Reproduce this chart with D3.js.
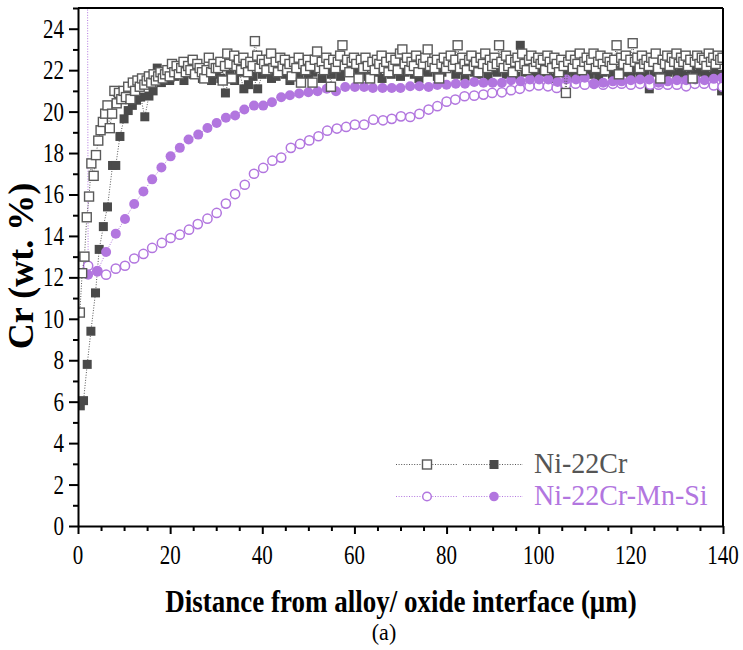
<!DOCTYPE html>
<html><head><meta charset="utf-8">
<script src="https://cdn.jsdelivr.net/npm/d3@7"></script>
<style>body{margin:0;background:#fff}svg{display:block}text{font-family:"Liberation Serif",serif}</style>
</head><body>
<script>
// ---------------- DATA ----------------
const xTicks = [0,20,40,60,80,100,120,140];
const xMinorTicks = [5,10,15,25,30,35,45,50,55,65,70,75,85,90,95,105,110,115,125,130,135];
const yTicks = [0,2,4,6,8,10,12,14,16,18,20,22,24];
const yMinorTicks = [1,3,5,7,9,11,13,15,17,19,21,23,25];
const seriesNames = ["Ni-22Cr","Ni-22Cr-Mn-Si"];

// Ni-22Cr, open squares
const niOpenX = [
0.4,0.9,1.4,1.9,2.4,2.9,3.4,3.9,4.4,4.9,5.4,5.9,6.4,6.9,7.4,7.9,8.4,8.9,9.4,9.9,
10.4,10.9,11.4,11.9,12.4,12.9,13.4,13.9,14.4,14.9,15.4,15.9,16.4,16.9,17.4,17.9,18.4,18.9,19.4,19.9,
20.4,20.9,21.4,21.9,22.4,22.9,23.4,23.9,24.4,24.9,25.4,25.9,26.4,26.9,27.4,27.9,28.4,28.9,29.4,29.9,
30.4,30.9,31.4,31.9,32.4,32.9,33.4,33.9,34.4,34.9,35.4,35.9,36.4,36.9,37.4,37.9,38.4,38.9,39.4,39.9,
40.4,40.9,41.4,41.9,42.4,42.9,43.4,43.9,44.4,44.9,45.4,45.9,46.4,46.9,47.4,47.9,48.4,48.9,49.4,49.9,
50.4,50.9,51.4,51.9,52.4,52.9,53.4,53.9,54.4,54.9,55.4,55.9,56.4,56.9,57.4,57.9,58.4,58.9,59.4,59.9,
60.4,60.9,61.4,61.9,62.4,62.9,63.4,63.9,64.4,64.9,65.4,65.9,66.4,66.9,67.4,67.9,68.4,68.9,69.4,69.9,
70.4,70.9,71.4,71.9,72.4,72.9,73.4,73.9,74.4,74.9,75.4,75.9,76.4,76.9,77.4,77.9,78.4,78.9,79.4,79.9,
80.4,80.9,81.4,81.9,82.4,82.9,83.4,83.9,84.4,84.9,85.4,85.9,86.4,86.9,87.4,87.9,88.4,88.9,89.4,89.9,
90.4,90.9,91.4,91.9,92.4,92.9,93.4,93.9,94.4,94.9,95.4,95.9,96.4,96.9,97.4,97.9,98.4,98.9,99.4,99.9,
100.4,100.9,101.4,101.9,102.4,102.9,103.4,103.9,104.4,104.9,105.4,105.9,106.4,106.9,107.4,107.9,108.4,108.9,109.4,109.9,
110.4,110.9,111.4,111.9,112.4,112.9,113.4,113.9,114.4,114.9,115.4,115.9,116.4,116.9,117.4,117.9,118.4,118.9,119.4,119.9,
120.4,120.9,121.4,121.9,122.4,122.9,123.4,123.9,124.4,124.9,125.4,125.9,126.4,126.9,127.4,127.9,128.4,128.9,129.4,129.9,
130.4,130.9,131.4,131.9,132.4,132.9,133.4,133.9,134.4,134.9,135.4,135.9,136.4,136.9,137.4,137.9,138.4,138.9,139.4,139.9];
const niOpenY = [
10.3,12.2,13.0,14.9,15.9,17.5,16.9,17.9,18.6,19.1,19.5,19.9,20.3,19.2,19.9,21.0,20.4,20.9,20.6,21.0,
20.7,21.2,20.6,21.4,21.0,21.5,21.2,21.6,21.3,21.5,21.7,21.4,21.8,21.5,21.7,21.9,21.6,21.8,22.0,21.7,
22.3,21.9,22.2,21.8,22.1,22.4,21.9,22.2,22.0,22.5,21.8,22.3,22.1,21.9,21.6,22.0,22.6,21.9,22.3,22.1,
22.1,22.4,21.5,22.2,22.8,22.3,21.6,22.7,22.2,22.5,22.0,22.6,22.3,21.9,22.4,22.2,23.4,22.7,22.1,22.5,
22.3,22.0,22.5,22.8,22.1,22.4,21.9,22.6,22.2,22.5,22.0,22.3,21.7,22.4,22.1,22.6,21.4,22.3,22.0,22.5,
22.2,21.4,22.5,22.9,22.1,22.4,22.0,22.6,22.3,21.2,22.5,22.1,22.4,22.7,23.2,22.2,22.5,21.9,22.4,22.6,
22.3,21.6,22.5,22.1,22.6,22.2,21.6,22.4,22.0,22.5,22.3,22.7,22.1,22.4,21.9,22.6,22.2,22.5,22.0,22.8,
23.0,22.3,22.6,22.0,22.4,22.2,22.7,21.9,22.5,22.3,22.6,23.0,22.2,22.4,22.1,22.5,21.6,22.3,22.6,22.1,
22.4,22.7,22.2,22.5,23.2,22.1,22.6,22.3,22.0,22.5,22.7,22.2,22.4,21.9,22.6,22.3,22.8,22.1,22.5,22.2,
22.6,22.3,23.2,22.4,22.1,22.7,22.2,22.5,21.9,22.4,22.6,22.2,22.8,22.3,22.0,22.5,22.7,22.1,22.4,22.6,
22.3,22.5,22.0,22.7,22.4,22.1,22.6,22.3,21.9,22.5,22.2,20.9,22.4,22.7,22.1,22.5,22.3,22.8,22.0,22.4,
22.6,22.2,22.5,22.8,22.1,22.4,22.7,22.3,22.0,22.6,22.4,22.2,22.5,23.2,21.8,22.6,22.3,22.7,22.1,22.5,
23.3,22.4,22.6,22.1,22.7,22.3,22.5,22.2,22.6,22.4,22.8,22.1,21.6,22.5,22.3,22.7,22.2,22.6,22.4,22.8,
22.3,22.6,22.4,22.7,22.2,22.5,21.6,22.4,22.7,22.3,22.6,22.5,22.2,22.8,22.4,22.6,22.3,22.7,22.5,22.6];

// Ni-22Cr, filled squares
const niFillX = [0.5,1.2,2.0,2.8,3.8,4.6,5.5,6.4,7.5,8.2,9.1,10.0,10.9,11.8,12.7,13.6,14.5,15.4,16.3,17.2,18.1,19.0,19.9,
21,22,23,24,25,26,27,28,29,30,31,32,33,34,35,36,37,38,39,40,41,42,43,44,45,46,47,48,49,50,
51,52,53,54,55,56,57,58,59,60,61,62,63,64,65,66,67,68,69,70,71,72,73,74,75,76,77,78,79,80,
81,82,83,84,85,86,87,88,89,90,91,92,93,94,95,96,97,98,99,100,101,102,103,104,105,106,107,108,109,110,
111,112,113,114,115,116,117,118,119,120,121,122,123,124,125,126,127,128,129,130,131,132,133,134,135,136,137,138,139,139.7];
const niFillY = [5.8,6.05,7.8,9.4,11.25,13.35,14.45,15.4,17.4,17.4,18.8,19.65,20.05,20.3,20.55,20.7,19.75,20.75,21.0,22.1,21.4,21.6,21.5,
21.7,22.2,21.5,21.9,21.8,22.0,21.6,21.9,21.5,21.8,
21.6,20.9,21.8,21.5,21.9,21.1,21.3,21.7,21.1,21.8,
21.9,21.6,21.7,22.0,21.8,21.5,21.9,21.7,22.1,21.8,
21.9,22.1,21.6,22.0,21.8,22.2,21.7,22.0,21.9,22.1,
21.8,22.0,21.7,22.2,21.9,21.6,22.1,21.8,22.0,21.7,
21.9,22.1,21.8,21.6,22.0,21.9,22.2,21.7,21.9,22.1,
22.6,21.8,22.0,21.7,22.1,21.9,21.8,22.2,21.7,22.0,
21.9,22.1,21.8,22.0,21.7,23.2,21.9,22.1,21.8,22.0,
21.9,22.0,21.6,21.9,22.1,21.8,22.0,21.7,21.9,22.1,
21.8,22.0,21.7,21.9,22.2,21.8,21.6,22.0,21.9,21.7,
22.0,21.8,21.9,21.1,21.9,22.1,21.7,21.9,22.0,21.8,
21.9,21.7,22.1,21.8,22.0,21.9,21.7,22.0,21.8,21.0];

// Ni-22Cr-Mn-Si, open circles (first point lies far above the frame)
const mnOpenX = [1.9,2.2,4.2,6.1,8.2,10.2,12.2,14.2,16.1,18.2,20.1,22.1,24.1,26.0,28.1,30.1,32.1,34.1,36.2,38.2,40.2,
42.2,44.1,46.2,48.2,50.2,52.2,54.1,56.2,58.2,60.1,62.1,64.1,66.2,68.1,70.1,72.1,74.1,76.1,78.0,80.0,
81.9,83.9,86.0,88.0,89.9,92.0,94.0,95.9,98.0,100.0,102.0,103.9,105.9,108.0,110.0,112.0,114.0,116.1,118.0,120.0,
122.0,124.2,126.0,128.0,130.0,132.0,133.9,135.9,138.0,139.9];
const mnOpenY = [45,12.56,12.3,12.13,12.42,12.56,12.91,13.13,13.42,13.66,13.90,14.06,14.3,14.57,14.83,15.11,15.56,16.02,16.47,17.00,17.28,
17.63,17.78,18.25,18.44,18.61,18.81,19.08,19.18,19.26,19.37,19.37,19.61,19.58,19.65,19.77,19.74,19.89,20.10,20.26,20.48,
20.58,20.74,20.77,20.82,20.90,20.93,21.03,21.10,21.22,21.26,21.22,21.14,21.30,21.35,21.30,21.34,21.30,21.34,21.35,21.30,
21.34,21.30,21.30,21.30,21.30,21.22,21.34,21.35,21.26,21.2];

// Ni-22Cr-Mn-Si, filled circles
const mnFillX = [2.2,4.2,6.1,8.2,10.2,12.2,14.2,16.1,18.1,20.1,22.1,24.0,26.1,28.1,30.1,32.1,34.1,36.1,38.2,40.2,
42.1,44.1,46.0,48.0,50.0,52.0,54.0,56.0,58.0,60.1,62.1,64.0,66.1,68.1,70.0,72.1,74.1,76.1,78.0,80.0,
82.0,84.0,86.0,88.0,90.0,92.0,94.0,96.1,98.1,100.1,102.1,104.1,106.0,108.1,110.0,112.0,114.0,116.1,118.0,120.0,
122.0,124.0,126.0,128.0,130.0,132.0,134.0,136.0,138.0,139.8];
const mnFillY = [12.13,12.29,13.22,14.11,14.82,15.54,16.14,16.73,17.30,17.84,18.25,18.65,18.89,19.21,19.45,19.70,19.81,20.10,20.29,20.29,
20.45,20.69,20.79,20.87,20.93,20.98,21.10,20.98,21.19,21.19,21.19,21.14,21.14,21.14,21.14,21.22,21.22,21.19,21.28,21.30,
21.34,21.34,21.43,21.39,21.39,21.39,21.51,21.46,21.55,21.55,21.55,21.43,21.55,21.55,21.63,21.35,21.39,21.46,21.46,21.51,
21.55,21.55,21.39,21.46,21.51,21.51,21.55,21.51,21.58,21.63];

// ---------------- CHART ----------------
const W = 743, H = 650;
const M = {left:78, top:8, right:20, bottom:124};
const GRAY = "#555555", DARK = "#4a4a4a", PURPLE = "#b276df";
const FONT = "Liberation Serif";

const svg = d3.select("body").append("svg").attr("width",W).attr("height",H);
const x = d3.scaleLinear().domain([0,140]).range([M.left, W-M.right]);
const y = d3.scaleLinear().domain([0,25]).range([H-M.bottom, M.top]);

svg.append("clipPath").attr("id","clip").append("rect")
  .attr("x",x(0)).attr("y",y(25)).attr("width",x(140)-x(0)).attr("height",y(0)-y(25));

const plot = svg.append("g").attr("clip-path","url(#clip)");

function toPts(xs, ys){ return xs.map((v,i)=>({x:v,y:ys[i]})); }
const line = d3.line().x(d=>x(d.x)).y(d=>y(d.y));

function drawLine(pts, color){
  plot.append("path").datum(pts).attr("d",line).attr("fill","none")
    .attr("stroke",color).attr("stroke-width",1).attr("stroke-dasharray","1,1.6");
}
const SQ = 9, R = 4.6;
function drawSquares(pts, fill, stroke){
  plot.append("g").selectAll("rect").data(pts).join("rect")
    .attr("x",d=>x(d.x)-SQ/2).attr("y",d=>y(d.y)-SQ/2)
    .attr("width",SQ).attr("height",SQ)
    .attr("fill",fill).attr("stroke",stroke).attr("stroke-width",stroke==="none"?0:1.4);
}
function drawCircles(pts, fill, stroke){
  plot.append("g").selectAll("circle").data(pts).join("circle")
    .attr("cx",d=>x(d.x)).attr("cy",d=>y(d.y)).attr("r",stroke==="none"?R+0.4:R)
    .attr("fill",fill).attr("stroke",stroke).attr("stroke-width",stroke==="none"?0:1.5);
}

const pNiFill = toPts(niFillX, niFillY);
const pNiOpen = toPts(niOpenX, niOpenY);
const pMnOpen = toPts(mnOpenX, mnOpenY);
const pMnFill = toPts(mnFillX, mnFillY);

drawLine(pNiFill, GRAY); drawSquares(pNiFill, DARK, "none");
drawLine(pMnOpen, PURPLE); drawCircles(pMnOpen, "#fff", PURPLE);
drawLine(pMnFill, PURPLE); drawCircles(pMnFill, PURPLE, "none");
drawLine(pNiOpen, GRAY); drawSquares(pNiOpen, "#fff", "#5a5a5a");

// axes
svg.append("g").attr("transform",`translate(0,${y(0)})`)
  .call(d3.axisBottom(x).tickValues(xTicks).tickSize(8).tickSizeOuter(0).tickFormat(""));
svg.append("g").attr("transform",`translate(0,${y(0)})`)
  .call(d3.axisBottom(x).tickValues(xMinorTicks).tickSize(5).tickSizeOuter(0).tickFormat(""))
  .select(".domain").remove();
svg.append("g").attr("transform",`translate(${x(0)},0)`)
  .call(d3.axisLeft(y).tickValues(yTicks).tickSize(9).tickSizeOuter(0).tickFormat(""));
svg.append("g").attr("transform",`translate(${x(0)},0)`)
  .call(d3.axisLeft(y).tickValues(yMinorTicks).tickSize(5).tickSizeOuter(0).tickFormat(""))
  .select(".domain").remove();
svg.selectAll(".domain, .tick line").attr("stroke","#000").attr("stroke-width",2);
// top & right frame
svg.append("line").attr("x1",x(0)).attr("x2",x(140)).attr("y1",y(25)).attr("y2",y(25)).attr("stroke","#000").attr("stroke-width",2);
svg.append("line").attr("x1",x(140)).attr("x2",x(140)).attr("y1",y(25)).attr("y2",y(0)).attr("stroke","#000").attr("stroke-width",2);

function stretchText(g, tx, ty, str, opts){
  return g.append("text").attr("transform",`translate(${tx},${ty}) scale(1,${opts.sy||1})`)
    .style("font-family",FONT).attr("font-size",opts.size).attr("text-anchor",opts.anchor||"middle")
    .attr("font-weight",opts.weight||"normal").attr("fill",opts.fill||"#000").text(str);
}
// tick labels
xTicks.forEach(v=>stretchText(svg, x(v), 564, String(v), {size:21, sy:1.3}));
yTicks.forEach(v=>stretchText(svg, 64, y(v)+9, String(v), {size:21, sy:1.3, anchor:"end"}));

// axis titles
stretchText(svg, 401, 612, "Distance from alloy/ oxide interface (\u03bcm)", {size:27, sy:1.2, weight:"bold"});
svg.append("text").attr("transform",`translate(33,266) rotate(-90)`)
  .style("font-family",FONT).attr("font-size",36).attr("font-weight","bold")
  .attr("text-anchor","middle").text("Cr (wt. %)");
// caption
stretchText(svg, 384, 640, "(a)", {size:22, sy:1.05});

// legend
const leg = svg.append("g");
const legRows = [
  {name:seriesNames[0], color:GRAY, text:GRAY, yy:464.5, kind:"sq"},
  {name:seriesNames[1], color:PURPLE, text:PURPLE, yy:496.5, kind:"ci"}
];
legRows.forEach(r=>{
  [[396,457],[463,523]].forEach(seg=>{
    leg.append("line").attr("x1",seg[0]).attr("x2",seg[1]).attr("y1",r.yy).attr("y2",r.yy)
      .attr("stroke",r.color).attr("stroke-width",1).attr("stroke-dasharray","1,1.6");
  });
  if(r.kind==="sq"){
    leg.append("rect").attr("x",427-4.5).attr("y",r.yy-4.5).attr("width",9).attr("height",9)
      .attr("fill","#fff").attr("stroke","#5a5a5a").attr("stroke-width",1.4);
    leg.append("rect").attr("x",494-4.5).attr("y",r.yy-4.5).attr("width",9).attr("height",9).attr("fill",DARK);
  } else {
    leg.append("circle").attr("cx",427).attr("cy",r.yy).attr("r",4.3).attr("fill","#fff").attr("stroke",PURPLE).attr("stroke-width",1.5);
    leg.append("circle").attr("cx",494).attr("cy",r.yy).attr("r",4.8).attr("fill",PURPLE);
  }
  stretchText(leg, 534, r.yy+8.5, r.name, {size:28, sy:1.05, anchor:"start", fill:r.text});
});
</script>
</body></html>
